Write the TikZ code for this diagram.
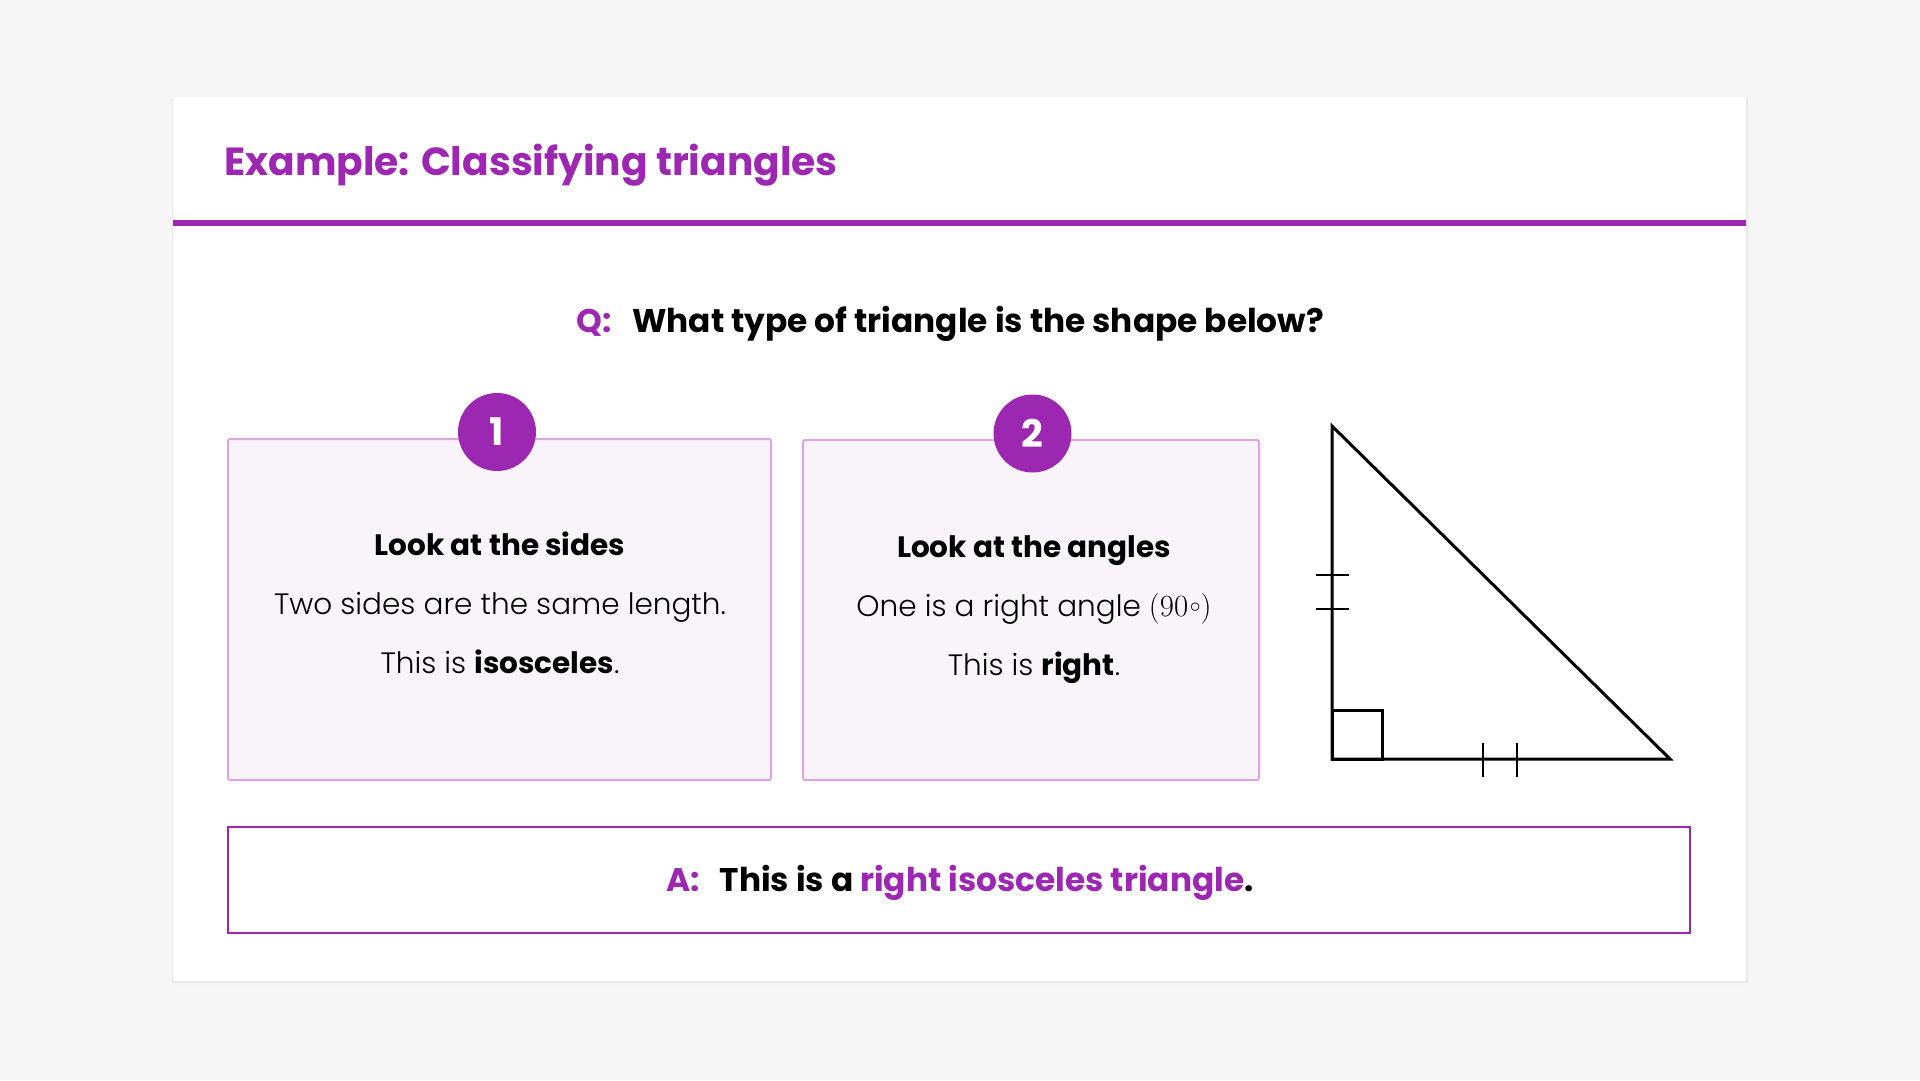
\documentclass[tikz,border=0pt]{standalone}
\usepackage{graphicx}
\usepackage{fontspec}
\setmainfont{Poppins}[UprightFont={* Light}, BoldFont={* Bold}]
\definecolor{purp}{HTML}{9C27B0}
\definecolor{bgc}{HTML}{F7F7F7}
\definecolor{boxfill}{HTML}{F9F4FA}
\definecolor{boxline}{HTML}{DDA6E2}
\tikzset{
  stepbox/.style={draw=boxline, line width=2pt, fill=boxfill, rounded corners=2pt, inner sep=0pt},
  badge/.style={circle, fill=purp, text=white, minimum size=78pt, inner sep=0pt, font=\fontsize{38}{40}\selectfont\bfseries},
  headtxt/.style={anchor=base, font=\fontsize{29.5}{36}\selectfont\bfseries},
  bodytxt/.style={anchor=base, font=\fontsize{29.5}{36}\selectfont},
  bigtxt/.style={anchor=base, font=\fontsize{32.8}{40}\selectfont\bfseries},
  shapeline/.style={line width=3pt, line join=miter}
}
\begin{document}
\begin{tikzpicture}[x=1pt,y=-1pt]
\useasboundingbox (0,0) rectangle (1920,1080);
\fill[bgc] (0,0) rectangle (1920,1080);
% card with soft shadow
\fill[black!4] (170,96) rectangle (1750,985);
\fill[black!9] (172,98) rectangle (1748,983);
\fill[white] (173,97) rectangle (1746,981);
% title
\node[anchor=base west, inner sep=0pt, text=purp, font=\fontsize{39.2}{48}\selectfont\bfseries] (title) at (224,175) {Example: Classifying triangles};
\fill[purp] (173,220) rectangle (1746,226);
% question
\node[bigtxt] (q) at (950,332) {{\color{purp}Q:}\hspace{21pt}What type of triangle is the shape below?};
% box 1
\node[stepbox, minimum width=543pt, minimum height=341pt] (box1) at (499.5,609.5) {};
\node[badge] (b1) at (497,432) {1};
\node[headtxt] (h1) at (500,555) {Look at the sides};
\node[bodytxt] (l1a) at (500,614) {Two sides are the same length.};
\node[bodytxt] (l1b) at (500,673) {This is \textbf{isosceles}.};
% box 2
\node[stepbox, minimum width=456pt, minimum height=340pt] (box2) at (1031,610) {};
\node[badge] (b2) at (1032.5,433.5) {2};
\node[headtxt] (h2) at (1034,557) {Look at the angles};
\node[bodytxt] (l2a) at (1034,616) {One is a right angle {\fontsize{24.88}{30}\selectfont\scalebox{1.24}{$(90\mkern1mu\raisebox{0.12em}{$\scriptscriptstyle\circ$})$}}};
\node[bodytxt] (l2b) at (1034,675) {This is \textbf{right}.};
% triangle
\coordinate (T) at (1332,426);
\coordinate (R) at (1332,759);
\coordinate (E) at (1670,759);
\draw[shapeline] (T) -- (R) -- (E) -- cycle;
\draw[shapeline] (1332,710) rectangle (1382,759);
\draw[line width=2.5pt] (1316,575) -- (1349,575);
\draw[line width=2.5pt] (1316,609) -- (1349,609);
\draw[line width=2.5pt] (1483,743) -- (1483,777);
\draw[line width=2.5pt] (1517,743) -- (1517,777);
% answer
\node[draw=purp, line width=2pt, fill=white, minimum width=1462pt, minimum height=106pt, inner sep=0pt] (ans) at (959,880) {};
\node[bigtxt] (a) at (960,891) {{\color{purp}A:}\hspace{20pt}This is a {\color{purp}right isosceles triangle}.};
\end{tikzpicture}
\end{document}
